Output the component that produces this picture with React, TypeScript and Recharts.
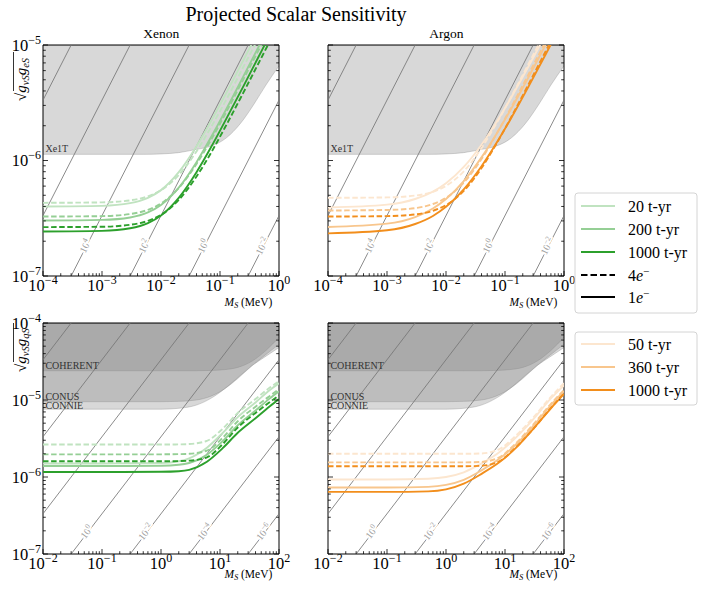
import React from 'react';
import { ComposedChart, Line, Area, XAxis, YAxis, ReferenceArea, ReferenceDot } from 'recharts';

const FONT = '"Liberation Serif", "DejaVu Serif", serif';

// ---------- colours ----------
const G20 = '#c0e3c0';
const G200 = '#95cf95';
const G1000 = '#2ca02c';
const O50 = '#fce6cf';
const O360 = '#f8c68d';
const O1000 = '#f28e1c';

// ---------- top panels (M_S in MeV, sqrt(g_nuS g_eS)) ----------
const TOP_X = [1e-4, 1e-3, 3e-3, 6e-3, 0.01, 0.02, 0.04, 0.07, 0.12, 0.25, 0.5, 1];

const XE_TOP_20_4E = [4.3e-7, 4.34e-7, 4.52e-7, 4.89e-7, 5.53e-7, 7.49e-7, 1.2e-6, 1.93e-6, 3.17e-6, 6.48e-6, 1.28e-5, 2.56e-5];
const XE_TOP_200_4E = [3.27e-7, 3.3e-7, 3.44e-7, 3.74e-7, 4.24e-7, 5.78e-7, 9.34e-7, 1.5e-6, 2.48e-6, 5.07e-6, 1.0e-5, 2.0e-5];
const XE_TOP_1000_4E = [2.65e-7, 2.67e-7, 2.78e-7, 3.0e-7, 3.38e-7, 4.56e-7, 7.27e-7, 1.16e-6, 1.91e-6, 3.89e-6, 7.72e-6, 1.54e-5];
const XE_TOP_20_1E = [4.0e-7, 4.05e-7, 4.27e-7, 4.75e-7, 5.54e-7, 7.92e-7, 1.33e-6, 2.18e-6, 3.62e-6, 7.42e-6, 1.47e-5, 2.94e-5];
const XE_TOP_200_1E = [3.02e-7, 3.06e-7, 3.21e-7, 3.55e-7, 4.12e-7, 5.82e-7, 9.68e-7, 1.58e-6, 2.62e-6, 5.37e-6, 1.07e-5, 2.13e-5];
const XE_TOP_1000_1E = [2.43e-7, 2.46e-7, 2.59e-7, 2.87e-7, 3.34e-7, 4.75e-7, 7.92e-7, 1.295e-6, 2.16e-6, 4.41e-6, 8.77e-6, 1.75e-5];

const AR_TOP_50_4E = [4.75e-7, 4.79e-7, 4.97e-7, 5.36e-7, 6.02e-7, 8.06e-7, 1.28e-6, 2.05e-6, 3.36e-6, 6.84e-6, 1.36e-5, 2.7e-5];
const AR_TOP_360_4E = [3.69e-7, 3.73e-7, 3.87e-7, 4.2e-7, 4.75e-7, 6.43e-7, 1.03e-6, 1.66e-6, 2.73e-6, 5.56e-6, 1.1e-5, 2.2e-5];
const AR_TOP_1000_4E = [3.27e-7, 3.3e-7, 3.41e-7, 3.67e-7, 4.11e-7, 5.45e-7, 8.6e-7, 1.37e-6, 2.24e-6, 4.56e-6, 9.05e-6, 1.8e-5];
const AR_TOP_50_1E = [3.92e-7, 4.15e-7, 4.64e-7, 5.37e-7, 6.35e-7, 8.8e-7, 1.37e-6, 2.11e-6, 3.33e-6, 6.52e-6, 1.26e-5, 2.49e-5];
const AR_TOP_360_1E = [2.66e-7, 2.84e-7, 3.24e-7, 3.84e-7, 4.64e-7, 6.64e-7, 1.064e-6, 1.664e-6, 2.66e-6, 5.26e-6, 1.03e-5, 2.03e-5];
const AR_TOP_1000_1E = [2.34e-7, 2.49e-7, 2.82e-7, 3.31e-7, 3.97e-7, 5.62e-7, 8.92e-7, 1.39e-6, 2.21e-6, 4.36e-6, 8.48e-6, 1.67e-5];

// Xe1T excluded region (lower boundary)
const XE1T_X = [1e-4, 5e-3, 1e-2, 2e-2, 4e-2, 0.06, 0.13, 0.22, 0.38, 0.6, 1];
const XE1T_Y = [1.13e-6, 1.13e-6, 1.14e-6, 1.17e-6, 1.25e-6, 1.3e-6, 1.58e-6, 2.08e-6, 3.1e-6, 4.5e-6, 6.6e-6];

// ---------- bottom panels (sqrt(g_nuS g_qS)) ----------
const BOT_X_XE = [0.01, 0.1, 1, 2, 3, 6, 11, 20, 40, 70, 100];
const XE_BOT_20_4E = [2.64e-6, 2.64e-6, 2.64e-6, 2.65e-6, 2.68e-6, 2.95e-6, 4.2e-6, 6.8e-6, 1.03e-5, 1.45e-5, 1.75e-5];
const XE_BOT_200_4E = [1.97e-6, 1.97e-6, 1.97e-6, 1.98e-6, 2.0e-6, 2.2e-6, 3.2e-6, 5.3e-6, 8.2e-6, 1.13e-5, 1.38e-5];
const XE_BOT_1000_4E = [1.6e-6, 1.6e-6, 1.6e-6, 1.61e-6, 1.63e-6, 1.8e-6, 2.65e-6, 4.4e-6, 6.8e-6, 9.4e-6, 1.15e-5];
const XE_BOT_20_1E = [1.5e-6, 1.5e-6, 1.52e-6, 1.6e-6, 1.75e-6, 2.4e-6, 3.7e-6, 6.0e-6, 9.3e-6, 1.35e-5, 1.65e-5];
const XE_BOT_200_1E = [1.39e-6, 1.39e-6, 1.4e-6, 1.44e-6, 1.52e-6, 1.95e-6, 2.9e-6, 4.7e-6, 7.3e-6, 1.05e-5, 1.3e-5];
const XE_BOT_1000_1E = [1.16e-6, 1.16e-6, 1.17e-6, 1.19e-6, 1.24e-6, 1.58e-6, 2.35e-6, 3.75e-6, 5.8e-6, 8.3e-6, 1.03e-5];

const BOT_X_AR = [0.01, 0.1, 0.5, 1, 2, 4, 8, 15, 30, 60, 100];
const AR_BOT_50_4E = [2.0e-6, 2.0e-6, 2.0e-6, 2.0e-6, 2.0e-6, 2.02e-6, 2.3e-6, 3.4e-6, 5.9e-6, 1.1e-5, 1.65e-5];
const AR_BOT_360_4E = [1.55e-6, 1.55e-6, 1.55e-6, 1.55e-6, 1.55e-6, 1.57e-6, 1.8e-6, 2.7e-6, 4.8e-6, 8.9e-6, 1.35e-5];
const AR_BOT_1000_4E = [1.38e-6, 1.38e-6, 1.38e-6, 1.38e-6, 1.38e-6, 1.4e-6, 1.6e-6, 2.4e-6, 4.2e-6, 7.9e-6, 1.22e-5];
const AR_BOT_50_1E = [9.3e-7, 9.3e-7, 9.5e-7, 1.0e-6, 1.15e-6, 1.5e-6, 2.1e-6, 3.2e-6, 5.6e-6, 1.05e-5, 1.55e-5];
const AR_BOT_360_1E = [7.3e-7, 7.3e-7, 7.45e-7, 7.9e-7, 9.2e-7, 1.22e-6, 1.72e-6, 2.6e-6, 4.6e-6, 8.6e-6, 1.3e-5];
const AR_BOT_1000_1E = [6.4e-7, 6.4e-7, 6.5e-7, 6.9e-7, 8.2e-7, 1.1e-6, 1.55e-6, 2.35e-6, 4.2e-6, 7.8e-6, 1.2e-5];

// excluded regions (lower boundaries)
const REG_X = [0.01, 1, 2, 4, 7, 12, 20, 35, 60, 100];
const COHERENT_Y = [2.4e-5, 2.4e-5, 2.4e-5, 2.4e-5, 2.42e-5, 2.48e-5, 2.65e-5, 3.2e-5, 4.4e-5, 6.5e-5];
const CONUS_Y = [9.5e-6, 9.5e-6, 9.6e-6, 1.0e-5, 1.12e-5, 1.4e-5, 1.9e-5, 2.8e-5, 3.9e-5, 5.3e-5];
const CONNIE_Y = [7.6e-6, 7.6e-6, 7.8e-6, 8.6e-6, 1.05e-5, 1.4e-5, 1.95e-5, 2.8e-5, 3.7e-5, 4.8e-5];

// contour lines (value where the line meets the bottom of the frame) and their labels
const TOP_CONTOUR_X0 = [3e-6, 3e-5, 3e-4, 3e-3, 3e-2, 3e-1];
const TOP_CONTOUR_EXP: (number | null)[] = [null, null, 4, 2, 0, -2];
const BOT_CONTOUR_X0 = [3e-5, 3e-4, 3e-3, 3e-2, 0.3, 3, 30];
const BOT_CONTOUR_EXP: (number | null)[] = [null, null, null, 0, -2, -4, -6];

// ---------- helpers ----------
const zip = (xs: number[], ys: number[]) => xs.map((x, i) => ({ x, y: ys[i] }));
const fmtExp = (n: number) => (n < 0 ? '\u2212' + -n : String(n));
const isMajor = (v: number) => {
  const e = Math.log10(v);
  return Math.abs(e - Math.round(e)) < 1e-6;
};
const logTicks = (e0: number, e1: number) => {
  const out: number[] = [];
  for (let e = e0; e <= e1; e++) {
    for (let m = 1; m <= 9; m++) {
      if (e === e1 && m > 1) break;
      out.push(m * Math.pow(10, e));
    }
  }
  return out;
};

const PW = 236;
const PH = 231;
const YW = 50;
const MT = 16;
const MR = 22;
const XH = 34;

const TXT = { fontFamily: FONT };

const makeXTick = () => (props: any) => {
  const { x, y, payload } = props;
  const v = payload.value;
  const major = isMajor(v);
  const len = major ? 5 : 2.8;
  return (
    <g>
      <line x1={x} y1={y} x2={x} y2={y - len} stroke="#000" strokeWidth={0.8} />
      {major && (
        <text x={x} y={y + 15} textAnchor="middle" style={TXT} fontFamily={FONT} fontSize={16.5} fill="#000">
          10<tspan dy={-7} fontSize={12}>{fmtExp(Math.round(Math.log10(v)))}</tspan>
        </text>
      )}
    </g>
  );
};

const makeYTick = (showLabels: boolean) => (props: any) => {
  const { x, y, payload } = props;
  const v = payload.value;
  const major = isMajor(v);
  const len = major ? 5 : 2.8;
  return (
    <g>
      <line x1={x} y1={y} x2={x + len} y2={y} stroke="#000" strokeWidth={0.8} />
      <line x1={x + PW} y1={y} x2={x + PW - len} y2={y} stroke="#000" strokeWidth={0.8} />
      {showLabels && major && (
        <text x={x - 2} y={y + 5.5} textAnchor="end" style={TXT} fontFamily={FONT} fontSize={16.5} fill="#000">
          10<tspan dy={-7} fontSize={12}>{fmtExp(Math.round(Math.log10(v)))}</tspan>
        </text>
      )}
    </g>
  );
};

type Curve = { xs: number[]; ys: number[]; color: string; dashed: boolean };
type RegionLabel = { x: number; y: number; text: string };

type PanelProps = {
  left: number;
  top: number;
  xDomain: [number, number];
  yDomain: [number, number];
  xExp: [number, number];
  yExp: [number, number];
  showYLabels: boolean;
  regionRows: any[];
  regionKeys: string[];
  curves: Curve[];
  contourX0: number[];
  contourExp: (number | null)[];
  contourLabelY: number;
  regionLabels: RegionLabel[];
};

function Panel(p: PanelProps) {
  const [yMin, yMax] = p.yDomain;
  const span = yMax / yMin;
  const decX = Math.log10(p.xDomain[1] / p.xDomain[0]);
  const decY = Math.log10(span);
  const angle = (Math.atan((PH / decY) / (PW / decX)) * 180) / Math.PI;
  const xTicks = logTicks(p.xExp[0], p.xExp[1]);
  const yTicks = logTicks(p.yExp[0], p.yExp[1]);
  return (
    <div style={{ position: 'absolute', left: p.left - YW, top: p.top - MT }}>
      <ComposedChart
        width={YW + PW + MR}
        height={MT + PH + XH}
        data={p.regionRows}
        margin={{ top: MT, right: MR, bottom: 0, left: 0 }}
      >
        <XAxis
          dataKey="x"
          type="number"
          scale="log"
          domain={p.xDomain}
          allowDataOverflow
          ticks={xTicks}
          interval={0}
          tick={makeXTick()}
          tickLine={false}
          axisLine={false}
          tickSize={0}
          tickMargin={0}
          height={XH}
        />
        <YAxis
          type="number"
          scale="log"
          domain={p.yDomain}
          allowDataOverflow
          ticks={yTicks}
          interval={0}
          tick={makeYTick(p.showYLabels)}
          tickLine={false}
          axisLine={false}
          tickSize={0}
          tickMargin={0}
          width={YW}
        />
        {p.regionKeys.map((k) => (
          <Area
            key={k}
            dataKey={k}
            type="monotone"
            fill="#808080"
            fillOpacity={0.31}
            stroke="#8a8a8a"
            strokeOpacity={0.45}
            strokeWidth={0.8}
            connectNulls
            dot={false}
            activeDot={false}
            isAnimationActive={false}
          />
        ))}
        {p.contourX0.map((x0, i) => (
          <Line
            key={'c' + i}
            data={[
              { x: x0, y: yMin },
              { x: x0 * span, y: yMax },
            ]}
            dataKey="y"
            type="linear"
            stroke="#767676"
            strokeWidth={0.85}
            dot={false}
            activeDot={false}
            isAnimationActive={false}
          />
        ))}
        {p.curves.map((c, i) => (
          <Line
            key={'s' + i}
            data={zip(c.xs, c.ys)}
            dataKey="y"
            type="monotone"
            stroke={c.color}
            strokeWidth={1.9}
            strokeDasharray={c.dashed ? '5.5 2.6' : undefined}
            dot={false}
            activeDot={false}
            isAnimationActive={false}
          />
        ))}
        <ReferenceArea
          x1={p.xDomain[0]}
          x2={p.xDomain[1]}
          y1={p.yDomain[0]}
          y2={p.yDomain[1]}
          fill="none"
          fillOpacity={0}
          stroke="#000"
          strokeWidth={1}
          ifOverflow="visible"
        />
        {p.contourX0.map((x0, i) =>
          p.contourExp[i] === null ? null : (
            <ReferenceDot
              key={'l' + i}
              x={(x0 * p.contourLabelY) / yMin}
              y={p.contourLabelY}
              r={0}
              ifOverflow="visible"
              shape={(sp: any) => (
                <text
                  x={sp.cx}
                  y={sp.cy}
                  transform={`rotate(${-angle} ${sp.cx} ${sp.cy})`}
                  textAnchor="middle"
                  dominantBaseline="middle"
                  style={TXT}
                  fontFamily={FONT}
                  fontSize={10}
                  fill="#a0a0a0"
                  stroke="#fff"
                  strokeWidth={3.5}
                  paintOrder="stroke"
                >
                  10<tspan dy={-3.5} fontSize={7.5}>{fmtExp(p.contourExp[i] as number)}</tspan>
                </text>
              )}
            />
          )
        )}
        {p.regionLabels.map((l, i) => (
          <ReferenceDot
            key={'r' + i}
            x={l.x}
            y={l.y}
            r={0}
            ifOverflow="visible"
            shape={(sp: any) => (
              <text x={sp.cx} y={sp.cy} style={TXT} fontFamily={FONT} fontSize={10} fill="#333">
                {l.text}
              </text>
            )}
          />
        ))}
      </ComposedChart>
    </div>
  );
}

const topRows = XE1T_X.map((x, i) => ({ x, xe1t: [XE1T_Y[i], 1e-5] }));
const botRows = REG_X.map((x, i) => ({
  x,
  connie: [CONNIE_Y[i], 1e-4],
  conus: [CONUS_Y[i], 1e-4],
  coherent: [COHERENT_Y[i], 1e-4],
}));

const xeTopCurves: Curve[] = [
  { xs: TOP_X, ys: XE_TOP_20_4E, color: G20, dashed: true },
  { xs: TOP_X, ys: XE_TOP_20_1E, color: G20, dashed: false },
  { xs: TOP_X, ys: XE_TOP_200_4E, color: G200, dashed: true },
  { xs: TOP_X, ys: XE_TOP_200_1E, color: G200, dashed: false },
  { xs: TOP_X, ys: XE_TOP_1000_4E, color: G1000, dashed: true },
  { xs: TOP_X, ys: XE_TOP_1000_1E, color: G1000, dashed: false },
];
const arTopCurves: Curve[] = [
  { xs: TOP_X, ys: AR_TOP_50_4E, color: O50, dashed: true },
  { xs: TOP_X, ys: AR_TOP_50_1E, color: O50, dashed: false },
  { xs: TOP_X, ys: AR_TOP_360_4E, color: O360, dashed: true },
  { xs: TOP_X, ys: AR_TOP_360_1E, color: O360, dashed: false },
  { xs: TOP_X, ys: AR_TOP_1000_4E, color: O1000, dashed: true },
  { xs: TOP_X, ys: AR_TOP_1000_1E, color: O1000, dashed: false },
];
const xeBotCurves: Curve[] = [
  { xs: BOT_X_XE, ys: XE_BOT_20_4E, color: G20, dashed: true },
  { xs: BOT_X_XE, ys: XE_BOT_20_1E, color: G20, dashed: false },
  { xs: BOT_X_XE, ys: XE_BOT_200_4E, color: G200, dashed: true },
  { xs: BOT_X_XE, ys: XE_BOT_200_1E, color: G200, dashed: false },
  { xs: BOT_X_XE, ys: XE_BOT_1000_4E, color: G1000, dashed: true },
  { xs: BOT_X_XE, ys: XE_BOT_1000_1E, color: G1000, dashed: false },
];
const arBotCurves: Curve[] = [
  { xs: BOT_X_AR, ys: AR_BOT_50_4E, color: O50, dashed: true },
  { xs: BOT_X_AR, ys: AR_BOT_50_1E, color: O50, dashed: false },
  { xs: BOT_X_AR, ys: AR_BOT_360_4E, color: O360, dashed: true },
  { xs: BOT_X_AR, ys: AR_BOT_360_1E, color: O360, dashed: false },
  { xs: BOT_X_AR, ys: AR_BOT_1000_4E, color: O1000, dashed: true },
  { xs: BOT_X_AR, ys: AR_BOT_1000_1E, color: O1000, dashed: false },
];

const topLabels: RegionLabel[] = [{ x: 1.1e-4, y: 1.19e-6, text: 'Xe1T' }];
const botLabels: RegionLabel[] = [
  { x: 1.1e-2, y: 2.55e-5, text: 'COHERENT' },
  { x: 1.1e-2, y: 1.0e-5, text: 'CONUS' },
  { x: 1.1e-2, y: 7.75e-6, text: 'CONNIE' },
];

const LEFT_A = 43.3;
const LEFT_B = 328.3;
const TOP_A = 44.5;
const TOP_B = 322.7;

function YLabel({ x, y, sub }: { x: number; y: number; sub: string }) {
  return (
    <g transform={`translate(${x},${y}) rotate(-90)`}>
      <text x={0} y={0} style={TXT} fontFamily={FONT} fontSize={15} fill="#000">
        {'\u221A'}
        <tspan fontStyle="italic">g</tspan>
        <tspan fontSize={10.5} dy={3} fontStyle="italic">{'\u03BDS'}</tspan>
        <tspan dy={-3} fontStyle="italic">g</tspan>
        <tspan fontSize={10.5} dy={3} fontStyle="italic">{sub}</tspan>
      </text>
      <line x1={10} y1={-12.5} x2={49} y2={-12.5} stroke="#000" strokeWidth={0.8} />
    </g>
  );
}

function XLabel({ x, y }: { x: number; y: number }) {
  return (
    <text x={x} y={y} textAnchor="end" style={TXT} fontFamily={FONT} fontSize={11.5} fill="#000">
      <tspan fontStyle="italic">M</tspan>
      <tspan fontSize={8} dy={2} fontStyle="italic">S</tspan>
      <tspan dy={-2}> (MeV)</tspan>
    </text>
  );
}

const LEGEND_A = [
  { label: '20 t-yr', color: G20, dashed: false },
  { label: '200 t-yr', color: G200, dashed: false },
  { label: '1000 t-yr', color: G1000, dashed: false },
  { label: '4e\u207B', color: '#000', dashed: true },
  { label: '1e\u207B', color: '#000', dashed: false },
];
const LEGEND_B = [
  { label: '50 t-yr', color: O50, dashed: false },
  { label: '360 t-yr', color: O360, dashed: false },
  { label: '1000 t-yr', color: O1000, dashed: false },
];

function LegendBox({ x, y, w, h, rowY, items }: { x: number; y: number; w: number; h: number; rowY: number[]; items: typeof LEGEND_A }) {
  return (
    <g>
      <rect x={x} y={y} width={w} height={h} rx={3} ry={3} fill="#fff" stroke="#d4d4d4" strokeWidth={1} />
      {items.map((it, i) => (
        <g key={i}>
          <line
            x1={x + 6}
            x2={x + 40}
            y1={rowY[i]}
            y2={rowY[i]}
            stroke={it.color}
            strokeWidth={1.9}
            strokeDasharray={it.dashed ? '6.5 3' : undefined}
          />
          {it.label.startsWith('4e') || it.label.startsWith('1e') ? (
            <text x={x + 53} y={rowY[i] + 5.5} style={TXT} fontFamily={FONT} fontSize={16} fill="#000">
              {it.label[0]}
              <tspan fontStyle="italic">e</tspan>
              <tspan dy={-6} fontSize={11}>{'\u2212'}</tspan>
            </text>
          ) : (
            <text x={x + 53} y={rowY[i] + 5.5} style={TXT} fontFamily={FONT} fontSize={16} fill="#000">
              {it.label}
            </text>
          )}
        </g>
      ))}
    </g>
  );
}

export default function App() {
  return (
    <div style={{ position: 'absolute', left: 0, top: 0, width: 706, height: 597, background: '#fff', overflow: 'hidden' }}>
      <Panel
        left={LEFT_A}
        top={TOP_A}
        xDomain={[1e-4, 1]}
        yDomain={[1e-7, 1e-5]}
        xExp={[-4, 0]}
        yExp={[-7, -5]}
        showYLabels
        regionRows={topRows}
        regionKeys={['xe1t']}
        curves={xeTopCurves}
        contourX0={TOP_CONTOUR_X0}
        contourExp={TOP_CONTOUR_EXP}
        contourLabelY={1.8e-7}
        regionLabels={topLabels}
      />
      <Panel
        left={LEFT_B}
        top={TOP_A}
        xDomain={[1e-4, 1]}
        yDomain={[1e-7, 1e-5]}
        xExp={[-4, 0]}
        yExp={[-7, -5]}
        showYLabels={false}
        regionRows={topRows}
        regionKeys={['xe1t']}
        curves={arTopCurves}
        contourX0={TOP_CONTOUR_X0}
        contourExp={TOP_CONTOUR_EXP}
        contourLabelY={1.8e-7}
        regionLabels={topLabels}
      />
      <Panel
        left={LEFT_A}
        top={TOP_B}
        xDomain={[1e-2, 1e2]}
        yDomain={[1e-7, 1e-4]}
        xExp={[-2, 2]}
        yExp={[-7, -4]}
        showYLabels
        regionRows={botRows}
        regionKeys={['connie', 'conus', 'coherent']}
        curves={xeBotCurves}
        contourX0={BOT_CONTOUR_X0}
        contourExp={BOT_CONTOUR_EXP}
        contourLabelY={1.9e-7}
        regionLabels={botLabels}
      />
      <Panel
        left={LEFT_B}
        top={TOP_B}
        xDomain={[1e-2, 1e2]}
        yDomain={[1e-7, 1e-4]}
        xExp={[-2, 2]}
        yExp={[-7, -4]}
        showYLabels={false}
        regionRows={botRows}
        regionKeys={['connie', 'conus', 'coherent']}
        curves={arBotCurves}
        contourX0={BOT_CONTOUR_X0}
        contourExp={BOT_CONTOUR_EXP}
        contourLabelY={1.9e-7}
        regionLabels={botLabels}
      />
      <svg width={706} height={597} style={{ position: 'absolute', left: 0, top: 0, pointerEvents: 'none' }}>
        <text x={296} y={21} textAnchor="middle" style={TXT} fontFamily={FONT} fontSize={20} fill="#000">
          Projected Scalar Sensitivity
        </text>
        <text x={LEFT_A + PW / 2} y={37.5} textAnchor="middle" style={TXT} fontFamily={FONT} fontSize={13.5} fill="#000">
          Xenon
        </text>
        <text x={LEFT_B + PW / 2} y={37.5} textAnchor="middle" style={TXT} fontFamily={FONT} fontSize={13.5} fill="#000">
          Argon
        </text>
        <YLabel x={26} y={101} sub="eS" />
        <YLabel x={26} y={372} sub="qS" />
        <XLabel x={LEFT_A + PW - 7} y={306} />
        <XLabel x={LEFT_B + PW - 7} y={306} />
        <XLabel x={LEFT_A + PW - 7} y={578} />
        <XLabel x={LEFT_B + PW - 7} y={578} />
        <LegendBox x={575} y={193} w={122} h={120} rowY={[206, 229, 252, 275, 297]} items={LEGEND_A} />
        <LegendBox x={575} y={332} w={122} h={73} rowY={[344, 367, 390]} items={LEGEND_B} />
      </svg>
    </div>
  );
}
